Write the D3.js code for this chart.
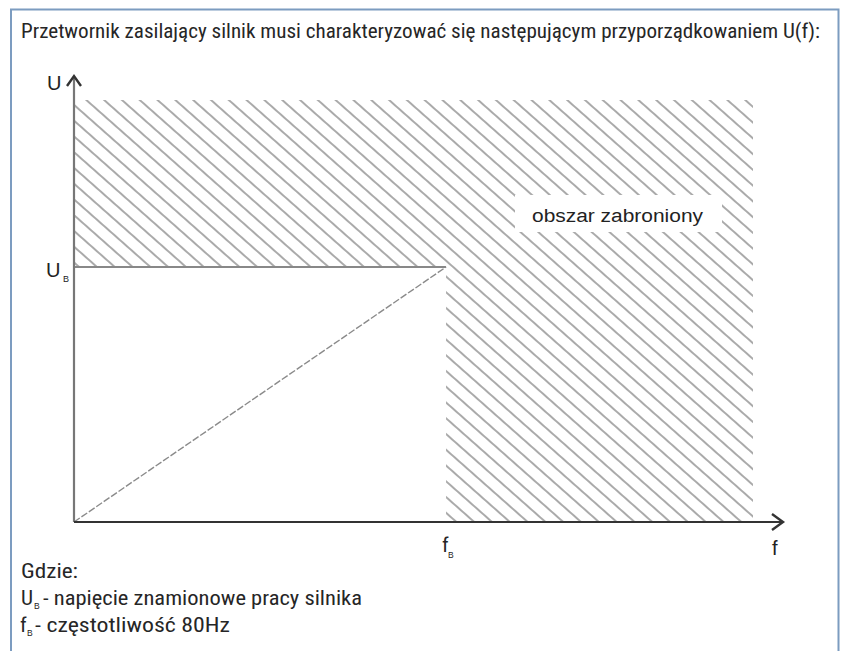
<html>
<head>
<style>
  body { margin: 0; background: #fff; }
  .narrow { font-family: "Roboto Condensed", "Liberation Sans Narrow", Roboto, sans-serif; fill: #262626; }
  .arial { font-family: "Liberation Sans", Arial, sans-serif; fill: #222; }
</style>
<script src="https://d3js.org/d3.v7.min.js"></script>
</head>
<body>
<svg width="847" height="651"></svg>
<script>
// U(f) characteristic of the converter
const fB = 80;          // rated frequency, Hz
const UB = 1;           // rated voltage (relative)
const fMax = 146;       // end of drawn f range
const UMax = 1.655;     // top of drawn U range
const charF = [0, fB];  // characteristic points
const charU = [0, UB];
const title = "Przetwornik zasilający silnik musi charakteryzować się następującym przyporządkowaniem U(f):";
const zoneLabel = "obszar zabroniony";
const notes = ["Gdzie:", "- napięcie znamionowe pracy silnika", "- częstotliwość 80Hz"];

const svg = d3.select("svg");
const x = d3.scaleLinear().domain([0, fMax]).range([74, 753]);
const y = d3.scaleLinear().domain([0, UMax]).range([522, 100]);

// blue frame
svg.append("path").attr("d", "M11,651 V9.5 H838.5 V651")
  .attr("fill", "none").attr("stroke", "#7c9cc0").attr("stroke-width", 2);

svg.append("text").attr("class", "narrow").attr("x", 21).attr("y", 38)
  .attr("font-size", 20.5).attr("textLength", 799).attr("lengthAdjust", "spacingAndGlyphs")
  .text(title);

// hatch pattern for forbidden zone
const defs = svg.append("defs");
defs.append("pattern").attr("id", "hatch").attr("patternUnits", "userSpaceOnUse")
  .attr("width", 40).attr("height", 11.8)
  .attr("patternTransform", "rotate(41.5)")
  .append("line").attr("x1", 0).attr("x2", 40).attr("y1", 5.9).attr("y2", 5.9)
  .attr("stroke", "#555").attr("stroke-width", 1.15);

const zone = [[0, UMax], [fMax, UMax], [fMax, 0], [fB, 0], [fB, UB], [0, UB]];
svg.append("path")
  .attr("d", d3.line().x(d => x(d[0])).y(d => y(d[1]))(zone) + "Z")
  .attr("fill", "url(#hatch)");

// label box
svg.append("rect").attr("x", 515).attr("y", 195).attr("width", 207).attr("height", 37).attr("fill", "#fff");
svg.append("text").attr("class", "arial").attr("x", 532).attr("y", 222)
  .attr("font-size", 18).attr("textLength", 171).attr("lengthAdjust", "spacingAndGlyphs")
  .text(zoneLabel);

// UB horizontal line
svg.append("line").attr("x1", x(0)).attr("x2", x(fB)).attr("y1", y(UB)).attr("y2", y(UB))
  .attr("stroke", "#888").attr("stroke-width", 2);

// characteristic
svg.append("path")
  .attr("d", d3.line().x((d, i) => x(charF[i])).y((d, i) => y(charU[i]))(charF))
  .attr("fill", "none").attr("stroke", "#8a8a8a").attr("stroke-width", 1.4)
  .attr("stroke-dasharray", "7,2");

// axes
svg.append("line").attr("x1", x(0)).attr("x2", x(0)).attr("y1", y(0)).attr("y2", 76)
  .attr("stroke", "#777").attr("stroke-width", 2.2);
svg.append("path").attr("d", "M67,86 L74,76 L81,86").attr("fill", "none")
  .attr("stroke", "#333").attr("stroke-width", 2.4);
svg.append("line").attr("x1", x(0)).attr("x2", 783).attr("y1", y(0)).attr("y2", y(0))
  .attr("stroke", "#333").attr("stroke-width", 2);
svg.append("path").attr("d", "M772,514 L783,522 L772,530").attr("fill", "none")
  .attr("stroke", "#333").attr("stroke-width", 2.4);

// axis labels
svg.append("text").attr("class", "arial").attr("x", 47).attr("y", 90).attr("font-size", 20).text("U");
svg.append("text").attr("class", "arial").attr("x", 772).attr("y", 555).attr("font-size", 20).text("f");

svg.append("text").attr("class", "arial").attr("x", 46).attr("y", 277).attr("font-size", 20).text("U");
svg.append("text").attr("class", "arial").attr("x", 63).attr("y", 282).attr("font-size", 9).text("B");

svg.append("text").attr("class", "narrow").attr("x", x(fB) - 4).attr("y", 552).attr("font-size", 21).text("f");
svg.append("text").attr("class", "arial").attr("x", x(fB) + 2).attr("y", 558).attr("font-size", 8.5).text("B");

// notes
svg.append("text").attr("class", "narrow").attr("x", 21).attr("y", 578).attr("font-size", 21)
  .attr("textLength", 57).attr("lengthAdjust", "spacingAndGlyphs").text(notes[0]);

svg.append("text").attr("class", "narrow").attr("x", 21).attr("y", 605).attr("font-size", 21)
  .attr("textLength", 12).attr("lengthAdjust", "spacingAndGlyphs").text("U");
svg.append("text").attr("class", "arial").attr("x", 34).attr("y", 609).attr("font-size", 8.5).text("B");
svg.append("text").attr("class", "narrow").attr("x", 43).attr("y", 605).attr("font-size", 21)
  .attr("textLength", 319).attr("lengthAdjust", "spacingAndGlyphs").text(notes[1]);

svg.append("text").attr("class", "narrow").attr("x", 20).attr("y", 632).attr("font-size", 21).text("f");
svg.append("text").attr("class", "arial").attr("x", 27).attr("y", 636).attr("font-size", 8.5).text("B");
svg.append("text").attr("class", "narrow").attr("x", 35).attr("y", 632).attr("font-size", 21)
  .attr("textLength", 195).attr("lengthAdjust", "spacingAndGlyphs").text(notes[2]);
</script>
</body>
</html>
